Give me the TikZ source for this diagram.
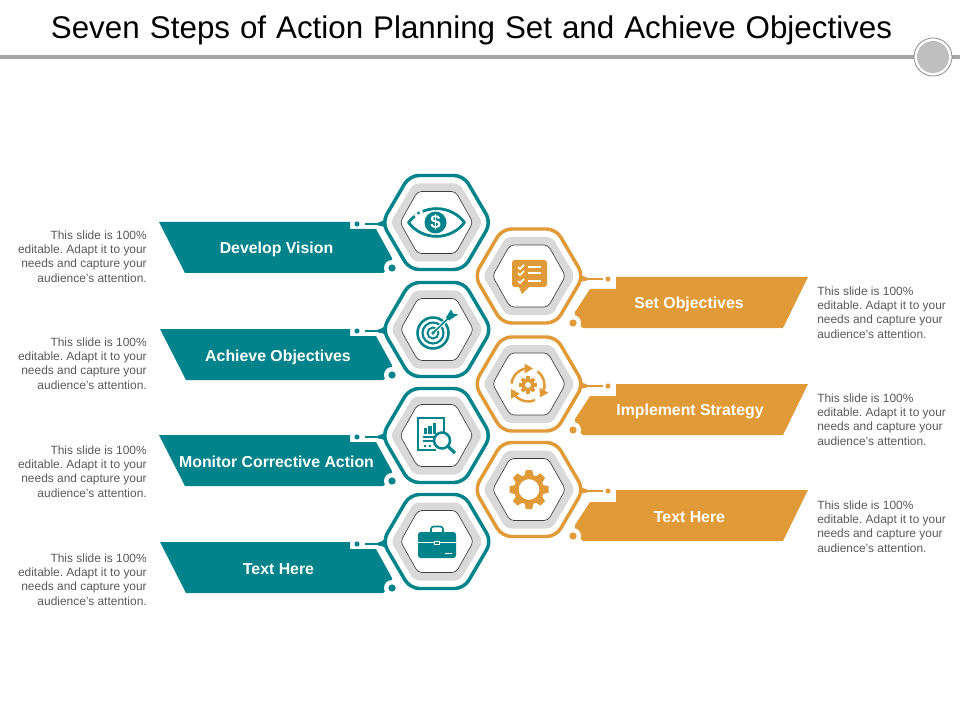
\documentclass[tikz,border=0pt]{standalone}
\usepackage{fontspec}
\setmainfont{Liberation Sans}
\definecolor{tealc}{HTML}{00838A}
\definecolor{orangec}{HTML}{E09A38}
\definecolor{ringgray}{HTML}{D9D9D9}
\definecolor{bodygray}{HTML}{595959}
\tikzset{
  bannerlabel/.style={text=white,font=\fontsize{11.9}{14}\selectfont\bfseries,inner sep=0pt},
  sidetext/.style={text=bodygray,font=\frenchspacing\fontsize{8.95}{10.75}\selectfont,inner sep=0pt,align=left},
  sideright/.style={sidetext,align=right},
  hexframe/.style={line width=2.6pt,rounded corners=7pt,fill=white},
  hexgray/.style={fill=ringgray,rounded corners=4pt},
  hexinner/.style={draw=black!75,line width=.5pt,fill=white,rounded corners=3pt},
  stem/.style={line width=2.2pt},
  dotmark/.style={circle,inner sep=0pt,minimum size=3.8pt}
}
\newcommand{\hexunit}[2]{%
  \begin{scope}[shift={(#1)}]
    \draw[hexframe,draw=#2] (-54.5,0)--(-27,-47)--(27,-47)--(54.5,0)--(27,47)--(-27,47)--cycle;
    \fill[hexgray] (-46,0)--(-23,-39)--(23,-39)--(46,0)--(23,39)--(-23,39)--cycle;
    \draw[hexinner] (-36.5,0)--(-19,-31)--(19,-31)--(36.5,0)--(19,31)--(-19,31)--cycle;
  \end{scope}}
\newcommand{\leftbanner}[2]{%
  \begin{scope}[yshift=#1*-0.75pt]
    \fill[tealc] (#2,0)--(350,0)--(350,7)--(376,7)--(392,36)--(392,44)--(383,51)--(#2+26,51)--cycle;
    \fill[white] (392,46) circle (8);
    \fill[tealc] (392,46) circle (3.6);
  \end{scope}}
\newcommand{\rightbanner}[1]{%
  \begin{scope}[yshift=#1*-0.75pt]
    \fill[orangec] (808,0)--(616,0)--(616,12)--(590,12)--(575,35)--(575,44)--(583,51)--(783,51)--cycle;
    \fill[white] (573,46) circle (8);
    \fill[orangec] (573,46) circle (3.6);
  \end{scope}}
\begin{document}
\begin{tikzpicture}[x=0.75pt,y=-0.75pt]
\useasboundingbox (0,0) rectangle (960,720);
\node[inner sep=0pt,font=\fontsize{23.5}{26}\selectfont,text=black,anchor=base] (title) at (471.5,39) {Seven\hspace{.05em} Steps\hspace{.04em} of\hspace{.04em} Action\hspace{.04em} Planning\hspace{.04em} Set\hspace{.04em} and\hspace{.04em} Achieve\hspace{.04em} Objectives};
\fill[black!35] (0,55) rectangle (960,59);
\draw[black!45,line width=.6pt,fill=white] (933,57) circle (19);
\fill[black!25] (933,57) circle (16);
\leftbanner{222}{159}
\leftbanner{329}{160}
\leftbanner{435}{159}
\leftbanner{542}{160}
\rightbanner{277}
\rightbanner{384}
\rightbanner{490}
\coordinate (ha) at (436.5,222.5);
\coordinate (hb) at (437,329.5);
\coordinate (hc) at (436.5,435.5);
\coordinate (hd) at (437,541.5);
\coordinate (he) at (529,276);
\coordinate (hf) at (529,384);
\coordinate (hg) at (529,489.5);
\foreach \n/\yy in {a/224,b/331,c/437,d/544}{
  \node[dotmark,fill=tealc] (dot\n) at (357,\yy) {};
  \coordinate (st\n) at (390,\yy);
  \draw[stem,draw=tealc] (dot\n.center)++(8,0) -- (st\n);
  \fill[tealc] (378,\yy-1.5) .. controls (381,\yy-1.5) and (383,\yy-3) .. (387,\yy-8) -- (387,\yy+5) .. controls (383,\yy+2) and (381,\yy+1.5) .. (378,\yy+1.5) -- cycle;
}
\foreach \n/\yy in {e/279,f/386,g/491}{
  \node[dotmark,fill=orangec] (dot\n) at (608,\yy) {};
  \coordinate (st\n) at (575,\yy);
  \draw[stem,draw=orangec] (st\n) -- ++(28,0);
  \fill[orangec] (587,\yy-1.5) .. controls (584,\yy-1.5) and (582,\yy-3) .. (578,\yy-8) -- (578,\yy+5) .. controls (582,\yy+2) and (584,\yy+1.5) .. (587,\yy+1.5) -- cycle;
}
\foreach \h in {ha,hb,hc,hd}{\hexunit{\h}{tealc}}
\foreach \h in {he,hf,hg}{\hexunit{\h}{orangec}}
\node[bannerlabel] (la) at (276.5,249.5) {Develop Vision};
\node[bannerlabel] (lb) at (278,357.5) {Achieve Objectives};
\node[bannerlabel] (lc) at (276.5,462) {Monitor Corrective Action};
\node[bannerlabel] (ld) at (278.5,569) {Text Here};
\node[bannerlabel] (le) at (689,304.5) {Set Objectives};
\node[bannerlabel] (lf) at (690,411.5) {Implement Strategy};
\node[bannerlabel] (lg) at (689.5,517) {Text Here};
\foreach \n/\yy in {a/256.5,b/363.5,c/471.5,d/579.5}{
  \node[sideright,anchor=east] (ta\n) at (147,\yy) {This slide is 100\%\\editable. Adapt it to your\\needs and capture your\\audience's attention.};
}
\foreach \n/\yy in {e/312.5,f/419.5,g/526.5}{
  \node[sidetext,anchor=west] (tb\n) at (817,\yy) {This slide is 100\%\\editable. Adapt it to your\\needs and capture your\\audience's attention.};
}
% eye
\begin{scope}[shift={(ha)}]
  \draw[tealc,line width=2.1pt,line join=round] (-28,0) .. controls (-14,-18.5) and (14,-18.5) .. (28,0) .. controls (14,18.5) and (-14,18.5) .. (-28,0) -- cycle;
  \draw[white,line width=3pt] (-21,-5.5) -- (-14.5,-12);
  \fill[tealc] (-18,-9.5) circle (1.6);
  \fill[tealc] (-1,0) circle (11);
  \node[text=white,font=\fontsize{14}{14}\selectfont\bfseries,inner sep=0pt] (dollar) at (-1,0) {\$};
\end{scope}
% target
\begin{scope}[shift={(hb)}]
  \draw[tealc,line width=1.9pt] (-4,3.5) circle (15.5);
  \draw[tealc,line width=1.6pt] (-4,3.5) circle (10.5);
  \draw[tealc,line width=1.4pt] (-4,3.5) circle (5.5);
  \fill[tealc] (-4,3.5) circle (1.8);
  \draw[white,line width=2.6pt] (-2,1.5) -- (10,-10);
  \draw[tealc,line width=1.2pt] (-4,3.5) -- (12,-12);
  \fill[tealc] (9,-12)--(14,-20)--(16,-16)--(21,-15)--(12,-9)--cycle;
\end{scope}
% chat
\begin{scope}[shift={(he)}]
  \fill[orangec,rounded corners=2pt] (-17,-16) rectangle (18,11);
  \fill[orangec] (-11,9)--(-7,18)--(2,9)--cycle;
  \foreach \yy in {-9,-3,5}{
    \draw[white,line width=1.1pt] (-1,\yy)--(12,\yy);
    \draw[white,line width=1.1pt] (-11,\yy)--(-9,\yy+2)--(-5,\yy-2);
  }
\end{scope}
% cycle gear
\begin{scope}[shift={(hf)}]
  \begin{scope}[shift={(-1,1)}]
    \foreach \a in {0,45,...,315}{\fill[orangec,rotate=\a] (-1.9,-8.7) rectangle (1.9,-5);}
    \fill[orangec,even odd rule] (0,0) circle (6.5) (0,0) circle (3);
    \foreach \r in {0,120,240}{
      \begin{scope}[rotate=\r]
        \draw[orangec,line width=1.9pt] (-175:16.5) arc[start angle=-175,end angle=-100,radius=16.5];
        \fill[orangec] (-3.5,-21.5)--(5,-16.5)--(-3.5,-11.5)--cycle;
      \end{scope}
    }
  \end{scope}
\end{scope}
% report
\begin{scope}[shift={(hc)}]
  \draw[tealc,line width=1.5pt] (7.5,-4) -- (7.5,-18) -- (-18.5,-18) -- (-18.5,14) -- (-1,14);
  \fill[tealc] (-13,-8) rectangle (-9.5,-2);
  \fill[tealc] (-8.5,-10) rectangle (-4.7,-2);
  \fill[tealc] (-4,-12.5) rectangle (-.3,-2);
  \fill[tealc] (-13.5,.7) rectangle (-3,2.2);
  \fill[tealc] (-13.5,4.7) rectangle (-3,6.2);
  \fill[tealc] (-13,9) rectangle (-10.5,11);
  \fill[tealc] (-8,9) rectangle (-5.5,11);
  \draw[tealc,line width=1.9pt,fill=white] (5.5,5) circle (8);
  \draw[tealc,line width=2.4pt] (11.5,11) -- (18.5,17.5);
\end{scope}
% gear
\begin{scope}[shift={(hg)}]
  \foreach \a in {0,45,...,315}{\fill[orangec,rotate=\a] (-4.5,-14) -- (-3.2,-19.5) -- (3.2,-19.5) -- (4.5,-14) -- cycle;}
  \draw[orangec,line width=3.4pt] (0,0) circle (12.7);
\end{scope}
% briefcase
\begin{scope}[shift={(hd)}]
  \draw[tealc,line width=1.2pt,rounded corners=2pt] (-6,-9) -- (-6,-15) -- (6,-15) -- (6,-9);
  \fill[tealc,rounded corners=2pt] (-19,-9.5) rectangle (19,16.5);
  \fill[white] (-19,0.5) rectangle (19,1.8);
  \fill[white] (-3,-1) rectangle (3,3.5);
  \fill[tealc] (-2,0) rectangle (2,2.5);
  \fill[white] (8,11) rectangle (15,12);
\end{scope}
\end{tikzpicture}
\end{document}
